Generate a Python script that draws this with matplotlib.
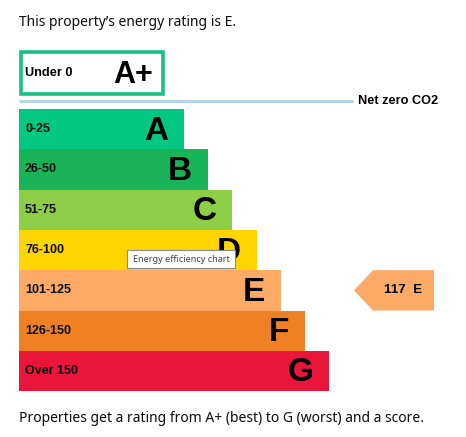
import matplotlib.pyplot as plt
from matplotlib.patches import Rectangle, Polygon

# EPC style energy rating chart, drawn in pixel coordinates.

bands = ['A', 'B', 'C', 'D', 'E', 'F', 'G']
ranges = ['0-25', '26-50', '51-75', '76-100', '101-125', '126-150', 'Over 150']
band_colors = ['#00c781', '#19b459', '#8dce46', '#ffd500', '#fcaa65', '#ef8023', '#e9153b']
score = 117
rating = 'E'

W, H = 466, 437
BOLD = 'Liberation Sans'
BODY = 'Noto Sans'


def main():
    fig = plt.figure(figsize=(W / 100, H / 100), dpi=100)
    ax = fig.add_axes([0, 0, 1, 1])
    ax.set_xlim(0, W)
    ax.set_ylim(H, 0)
    ax.axis('off')

    ax.text(19, 22, "This property\u2019s energy rating is E.", fontsize=10,
            family=BODY, color='#0b0c0c', va='center', ha='left')

    # A+ box
    ax.add_patch(Rectangle((21, 52), 142, 42, facecolor='white',
                           edgecolor='#19c084', linewidth=2.6))
    ax.text(25, 73, 'Under 0', fontsize=9.2, family=BOLD, weight='bold',
            va='center', ha='left')
    ax.text(153, 75, 'A+', fontsize=22, family=BOLD, weight='bold',
            va='center', ha='right')

    # net zero line
    ax.plot([19, 353], [101, 101], color='#b5d6e3', linewidth=2.2,
            solid_capstyle='butt')
    ax.text(358, 101, 'Net zero CO2', fontsize=9.2, family=BOLD, weight='bold',
            va='center', ha='left')

    top = 109
    bh = 40.3
    ys = [top + bh * i + bh / 2 for i in range(len(bands))]
    widths = [165 + 24.2 * i for i in range(len(bands))]
    ax.barh(ys, widths, height=bh, left=19, color=band_colors, linewidth=0)
    for y, w, b, r in zip(ys, widths, bands, ranges):
        ax.text(25, y, r, fontsize=9, family=BOLD, weight='bold',
                va='center', ha='left', color='#0b0c0c')
        ax.text(19 + w - 16, y + 2, b, fontsize=24, family=BOLD, weight='bold',
                va='center', ha='right', color='black')

    # current rating arrow
    i = bands.index(rating)
    yc = ys[i]
    arrow = Polygon([(354, yc), (373, yc - bh / 2), (434, yc - bh / 2),
                     (434, yc + bh / 2), (373, yc + bh / 2)], closed=True,
                    facecolor=band_colors[i], edgecolor='none')
    ax.add_patch(arrow)
    ax.text(403, yc, f'{score}  {rating}', fontsize=9.6, family=BOLD,
            weight='bold', va='center', ha='center')

    # tooltip
    ax.add_patch(Rectangle((127, 250), 108, 18, facecolor='white',
                           edgecolor='#8a8a8a', linewidth=0.8, zorder=5))
    ax.text(181, 259, 'Energy efficiency chart', fontsize=6.5, family=BODY,
            color='#444444', va='center', ha='center', zorder=6)

    ax.text(19, 418, 'Properties get a rating from A+ (best) to G (worst) and a score.',
            fontsize=10, family=BODY, color='#0b0c0c', va='center', ha='left')

    fig.savefig('out.png', dpi=100)


if __name__ == "__main__":
    main()
